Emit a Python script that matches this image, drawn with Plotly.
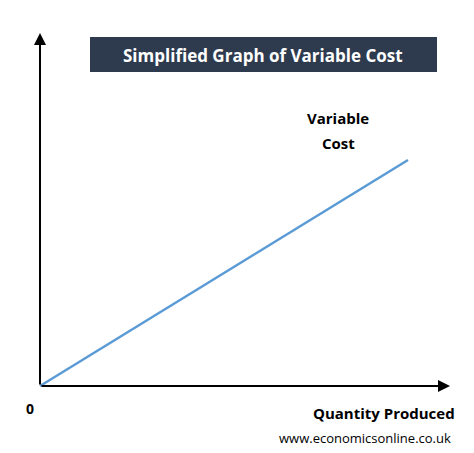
import plotly.graph_objects as go

quantity = [0, 10]
variable_cost = [0, 6]

OFF = 8  # page body margin
W, H = 474 - 2 * OFF, 453 - 2 * OFF
x0p, x1p = 40 - OFF, 408 - OFF
y0p, y1p = 386 - OFF, 160 - OFF
sx = (x1p - x0p) / 10.0
sy = (y0p - y1p) / 6.0
xr = [-x0p / sx, (W - x0p) / sx]
yr = [-(H - y0p) / sy, y0p / sy]
def px(x): return (x - OFF - x0p) / sx
def py(y): return (y0p - (y - OFF)) / sy

fig = go.Figure()
fig.add_trace(go.Scatter(x=quantity, y=variable_cost, mode="lines",
                         line=dict(color="#5b9bd5", width=2.5), hoverinfo="skip"))

F = "Open Sans, Liberation Sans, sans-serif"
ann = []
ann.append(dict(x=0, y=py(33), ax=0, ay=0, xref="x", yref="y", axref="x", ayref="y",
                showarrow=True, arrowhead=2, arrowsize=1.2, arrowwidth=2, arrowcolor="black", text=""))
ann.append(dict(x=px(450), y=0, ax=0, ay=0, xref="x", yref="y", axref="x", ayref="y",
                showarrow=True, arrowhead=2, arrowsize=1.2, arrowwidth=2, arrowcolor="black", text=""))
def txt(t, x, y, size, anchor="left", bold=True, color="black"):
    ann.append(dict(x=px(x), y=py(y), xref="x", yref="y", text=("<b>%s</b>" % t) if bold else t,
                    showarrow=False, xanchor=anchor, yanchor="middle",
                    font=dict(family=F, size=size, color=color)))
txt("Cost ($)", 6, 20, 14)
txt("0", 30, 408, 14, anchor="center")
txt("Quantity Produced", 457, 413, 15, anchor="right")
txt("www.economicsonline.co.uk", 453, 438, 13, anchor="right", bold=False)
txt("Variable", 338, 118, 15, anchor="center")
txt("Cost", 338, 143, 15, anchor="center")
txt("Simplified Graph of Variable Cost", 263, 55, 17, anchor="center", color="white")

fig.update_layout(
    width=W, height=H, margin=dict(l=0, r=0, t=0, b=0),
    paper_bgcolor="white", plot_bgcolor="white", showlegend=False,
    xaxis=dict(range=xr, visible=False, fixedrange=True),
    yaxis=dict(range=yr, visible=False, fixedrange=True),
    annotations=ann,
    shapes=[dict(type="rect", xref="x", yref="y", x0=px(90), x1=px(437), y0=py(37), y1=py(72),
                 fillcolor="#2e3b4f", line=dict(width=0), layer="below")],
)
fig.write_html("out.html")
